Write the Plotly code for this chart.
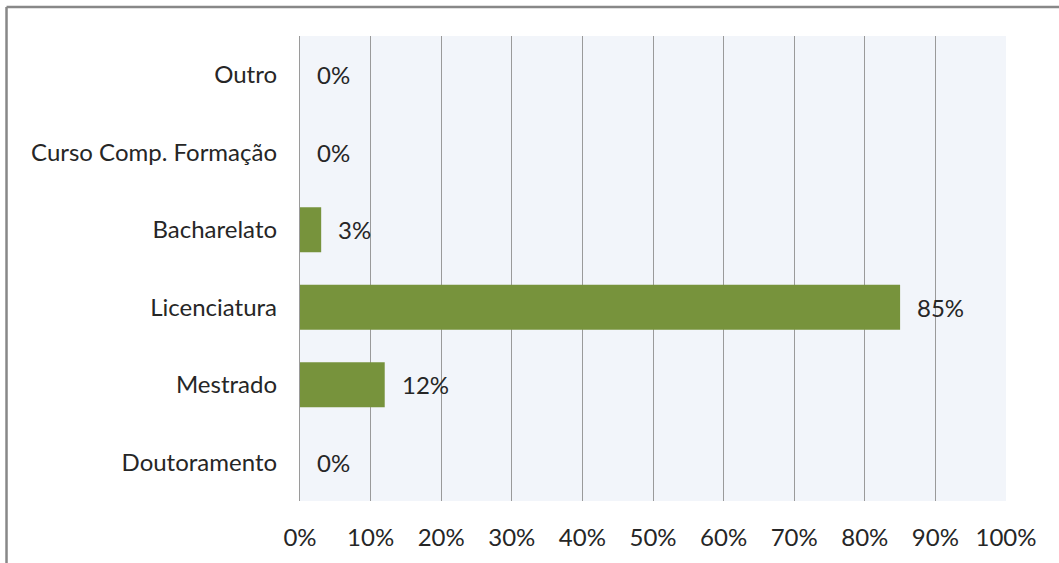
import plotly.graph_objects as go

categories = ["Doutoramento", "Mestrado", "Licenciatura", "Bacharelato", "Curso Comp. Formação", "Outro"]
values = [0, 12, 85, 3, 0, 0]
labels = ["0%", "12%", "85%", "3%", "0%", "0%"]
tick_vals = [0, 10, 20, 30, 40, 50, 60, 70, 80, 90, 100]
tick_text = ["0%", "10%", "20%", "30%", "40%", "50%", "60%", "70%", "80%", "90%", "100%"]

FONT = "Lato"
SIZE = 24
TXT = "#262626"

fig = go.Figure()
fig.add_trace(go.Bar(
    y=categories, x=values, orientation="h",
    marker=dict(color="#77933C", line=dict(width=0)),
    width=0.58, hoverinfo="skip",
))

for c, v, t in zip(categories, values, labels):
    fig.add_annotation(x=v, y=c, text=t, xref="x", yref="y", xanchor="left",
                       xshift=15, showarrow=False,
                       font=dict(family=FONT, size=SIZE, color=TXT))

fig.add_shape(type="line", xref="paper", yref="paper", x0=-0.4157, x1=1.2, y0=1.0624, y1=1.0624,
              line=dict(color="#888888", width=2.5))
fig.add_shape(type="line", xref="paper", yref="paper", x0=-0.4157, x1=-0.4157, y0=-0.3, y1=1.0624,
              line=dict(color="#888888", width=2.5))

fig.update_layout(
    width=1059, height=563,
    margin=dict(l=300, r=53, t=36, b=62),
    paper_bgcolor="white", plot_bgcolor="#F2F5FA",
    showlegend=False,
    font=dict(family=FONT, size=SIZE, color=TXT),
    xaxis=dict(range=[0, 100], tickvals=tick_vals, ticktext=tick_text,
               showgrid=True, gridcolor="#9A9A9A", gridwidth=1.3,
               zeroline=False, showline=False, ticks="", ticklabelstandoff=20,
               fixedrange=True),
    yaxis=dict(categoryorder="array", categoryarray=categories,
               showgrid=False, zeroline=False, showline=True, linecolor="#9A9A9A",
               linewidth=1.3, ticks="", ticklabelstandoff=17, fixedrange=True),
)

fig.write_html("out.html")
